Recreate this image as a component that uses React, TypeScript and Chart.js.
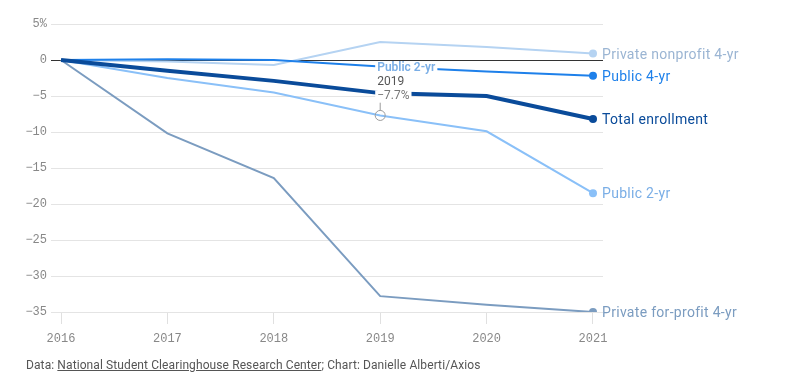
import React, { useEffect, useRef } from "react";
import { Chart, registerables } from "chart.js";

Chart.register(...registerables);

const years = [2016, 2017, 2018, 2019, 2020, 2021];
const totalEnrollment = [0, -1.5, -2.9, -4.6, -5.0, -8.2];
const public4yr = [0, 0.1, 0.0, -0.9, -1.6, -2.2];
const public2yr = [0, -2.5, -4.5, -7.7, -9.9, -18.5];
const privateNonprofit4yr = [0, -0.2, -0.7, 2.5, 1.8, 0.9];
const privateForProfit4yr = [0, -10.2, -16.4, -32.8, -34.0, -35.0];

const seriesNames = [
  "Total enrollment",
  "Public 4-yr",
  "Public 2-yr",
  "Private nonprofit 4-yr",
  "Private for-profit 4-yr",
];
const yTicks = [5, 0, -5, -10, -15, -20, -25, -30, -35];
const annotationYear = "2019";
const annotationValue = "−7.7%";

const lineColors = ["#0a4b9a", "#1e80ea", "#8ac0f8", "#b5d3f2", "#7b9cc0"];
const labelColors = ["#0a4b9a", "#1e80ea", "#7aaee6", "#9bb5d3", "#7b9cc0"];
const lineWidths = [4, 2, 2, 2, 2];

const endLabels = {
  id: "endLabels",
  afterDatasetsDraw(chart: any) {
    const ctx = chart.ctx;
    ctx.save();
    // annotation on Public 2-yr at 2019
    const meta2 = chart.getDatasetMeta(2);
    const p = meta2.data[3];
    if (p) {
      const px = p.x;
      const py = p.y;
      ctx.strokeStyle = "#9a9a9a";
      ctx.lineWidth = 1;
      ctx.beginPath();
      ctx.arc(px, py, 5, 0, Math.PI * 2);
      ctx.stroke();
      ctx.beginPath();
      ctx.moveTo(px, py - 5);
      ctx.lineTo(px, py - 13);
      ctx.stroke();
      const lx = px - 3;
      const lines = [
        { t: seriesNames[2], f: "600 12px Roboto", c: labelColors[2], y: py - 47 },
        { t: annotationYear, f: "12px Roboto", c: "#555", y: py - 33 },
        { t: annotationValue, f: "12px Roboto", c: "#777", y: py - 19 },
      ];
      ctx.textBaseline = "middle";
      ctx.textAlign = "left";
      lines.forEach((l) => {
        ctx.font = l.f;
        const w = ctx.measureText(l.t).width;
        ctx.fillStyle = "#fff";
        ctx.fillRect(lx - 2, l.y - 6, w + 4, 12);
      });
      lines.forEach((l) => {
        ctx.font = l.f;
        ctx.fillStyle = l.c;
        ctx.fillText(l.t, lx, l.y);
      });
    }
    // end labels
    chart.data.datasets.forEach((ds: any, i: number) => {
      const meta = chart.getDatasetMeta(i);
      const last = meta.data[meta.data.length - 1];
      if (!last) return;
      ctx.font = "14px Roboto";
      try {
        ctx.letterSpacing = "0.3px";
      } catch (e) {}
      ctx.fillStyle = labelColors[i];
      ctx.textAlign = "left";
      ctx.textBaseline = "middle";
      ctx.fillText(seriesNames[i], last.x + 9, last.y + 1.5);
    });
    ctx.restore();
  },
};

export default function App() {
  const ref = useRef<HTMLCanvasElement>(null);
  useEffect(() => {
    if (!ref.current) return;
    const seriesData = [
      totalEnrollment,
      public4yr,
      public2yr,
      privateNonprofit4yr,
      privateForProfit4yr,
    ];
    const chart = new Chart(ref.current, {
      type: "line",
      data: {
        datasets: seriesData.map((vals, i) => ({
          label: seriesNames[i],
          data: vals.map((v, j) => ({ x: years[j], y: v })),
          borderColor: lineColors[i],
          backgroundColor: lineColors[i],
          borderWidth: lineWidths[i],
          tension: 0,
          pointRadius: (c: any) => (c.dataIndex === years.length - 1 ? 4 : 0),
          pointHoverRadius: 0,
          pointBorderWidth: 0,
          fill: false,
        })),
      },
      options: {
        animation: false,
        responsive: false,
        devicePixelRatio: 1,
        layout: { padding: { left: 0, right: 195, top: 24, bottom: 36 } },
        plugins: { legend: { display: false }, tooltip: { enabled: false } },
        scales: {
          x: {
            type: "linear",
            min: years[0] - 0.094,
            max: years[years.length - 1] + 0.094,
            afterBuildTicks: (s: any) => {
              s.ticks = years.map((v) => ({ value: v }));
            },
            afterFit: (s: any) => {
              s.height = 40;
            },
            border: { display: false },
            grid: {
              drawOnChartArea: false,
              drawTicks: true,
              tickLength: 12,
              color: "#e0e0e0",
            },
            ticks: {
              autoSkip: false,
              maxRotation: 0,
              padding: 8,
              color: "#888",
              font: { family: "'Liberation Mono', 'DejaVu Sans Mono', monospace", size: 12 },
              callback: (v: any) => String(v),
            },
          },
          y: {
            min: -35,
            max: 5,
            afterBuildTicks: (s: any) => {
              s.ticks = yTicks.map((v) => ({ value: v }));
            },
            afterFit: (s: any) => {
              s.width = 51;
            },
            border: { display: false },
            grid: {
              drawTicks: false,
              color: (c: any) => (c.tick && c.tick.value === 0 ? "#333" : "#e4e4e4"),
              lineWidth: 1,
            },
            ticks: {
              padding: 4,
              color: "#888",
              font: { family: "'Liberation Mono', 'DejaVu Sans Mono', monospace", size: 12 },
              callback: (v: any) =>
                v === 5 ? "5%" : v < 0 ? "−" + Math.abs(v) : String(v),
            },
          },
        },
      },
      plugins: [endLabels],
    });
    return () => chart.destroy();
  }, []);
  return (
    <div style={{ position: "fixed", left: 0, top: 0, width: 798, height: 388, background: "#fff" }}>
      <canvas ref={ref} width={798} height={388} />
      <div
        style={{
          position: "absolute",
          left: 26,
          top: 358,
          fontFamily: "Roboto, sans-serif",
          fontSize: 12,
          lineHeight: "14px",
          color: "#555",
          whiteSpace: "nowrap",
          letterSpacing: 0.1,
        }}
      >
        Data: <span style={{ textDecoration: "underline" }}>National Student Clearinghouse Research Center</span>; Chart: Danielle Alberti/Axios
      </div>
    </div>
  );
}
